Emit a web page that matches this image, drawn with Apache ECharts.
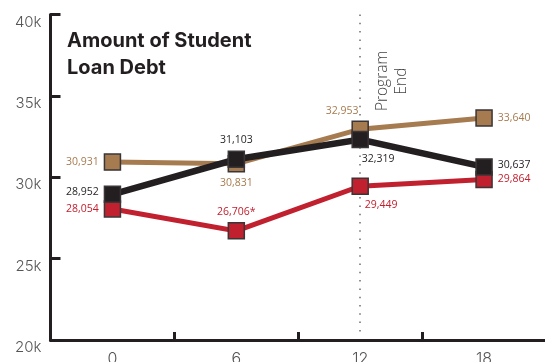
<!DOCTYPE html>
<html>
<head>
<meta charset="utf-8">
<script src="https://cdn.jsdelivr.net/npm/echarts@6/dist/echarts.min.js"></script>
<style>
  html, body { margin: 0; padding: 0; background: #ffffff; }
  #chart { width: 545px; height: 362px; }
</style>
</head>
<body>
<div id="chart"></div>
<script>
// Months since program start
const months = ['0', '6', '12', '18'];
// Y axis range and step
const yMin = 20000;
const yMax = 40000;
const yStep = 5000;

// Average student loan debt per group
const tanValues = [30931, 30831, 32953, 33640];
const redValues = [28054, 26706, 29449, 29864];
const blackValues = [28952, 31103, 32319, 30637];
const redNotes = ['', '*', '', ''];

const programEndMonth = '12';
const titleText = 'Amount of Student\nLoan Debt';
const programEndText = 'Program\nEnd';

const TAN = '#a67b4f';
const RED = '#c1202f';
const BLACK = '#231f20';
const AXIS = '#231f20';
const MARKER_EDGE = '#3a3536';

// where each value label sits relative to its marker
const tanPlace = [
  { position: 'left' },
  { position: 'bottom' },
  { position: 'top', offset: [-18, 1] },
  { position: 'right' }
];
const redPlace = [
  { position: 'left' },
  { position: 'top' },
  { position: 'bottom', offset: [21, 0] },
  { position: 'right' }
];
const blackPlace = [
  { position: 'left', offset: [0, -2] },
  { position: 'top' },
  { position: 'bottom', offset: [18, 0] },
  { position: 'right', offset: [0, -2] }
];

const fmt = v => v.toLocaleString('en-US');

function buildData(values, places, color, notes) {
  return values.map((v, i) => ({
    value: v,
    label: Object.assign({
      show: true,
      color: color,
      fontFamily: '"Open Sans", sans-serif',
      fontSize: 10.5,
      distance: 5,
      formatter: () => fmt(v) + (notes ? notes[i] : '')
    }, places[i])
  }));
}

function lineSeries(name, values, places, color, width, notes) {
  return {
    name: name,
    type: 'line',
    z: 6,
    data: buildData(values, places, color, notes),
    symbol: 'rect',
    symbolSize: 16,
    showAllSymbol: true,
    lineStyle: { color: color, width: width, cap: 'butt', join: 'miter' },
    itemStyle: { color: color, borderColor: MARKER_EDGE, borderWidth: 1.5 },
    emphasis: { disabled: true },
    animation: false
  };
}

const chart = echarts.init(document.getElementById('chart'), null, { renderer: 'canvas' });

chart.setOption({
  backgroundColor: '#ffffff',
  animation: false,
  title: {
    text: titleText,
    left: 67,
    top: 27,
    padding: 0,
    textStyle: {
      fontFamily: 'Inter, "Noto Sans", sans-serif',
      fontWeight: 700,
      fontSize: 20,
      lineHeight: 27,
      color: '#231f20'
    }
  },
  grid: {
    left: 50.5,
    right: -1,
    top: 14.5,
    bottom: 22,
    outerBoundsMode: 'none'
  },
  xAxis: {
    type: 'category',
    data: months,
    boundaryGap: true,
    axisLine: { lineStyle: { color: AXIS, width: 3 } },
    axisTick: { show: true, inside: true, length: 8, lineStyle: { color: AXIS, width: 3 } },
    axisLabel: {
      margin: 11,
      color: '#555555',
      fontFamily: 'Inter, sans-serif',
      fontWeight: 300,
      fontSize: 16
    },
    splitLine: { show: false }
  },
  yAxis: {
    type: 'value',
    min: yMin,
    max: yMax,
    interval: yStep,
    axisLine: { show: true, lineStyle: { color: AXIS, width: 3 } },
    axisTick: { show: true, inside: true, length: 10, lineStyle: { color: AXIS, width: 3 } },
    axisLabel: {
      margin: 9,
      color: '#555555',
      fontFamily: 'Inter, sans-serif',
      fontWeight: 300,
      fontSize: 15,
      verticalAlign: 'top',
      formatter: v => (v / 1000) + 'k'
    },
    splitLine: { show: false }
  },
  graphic: [{
    type: 'text',
    x: 392,
    y: 81,
    rotation: Math.PI / 2,
    silent: true,
    style: {
      text: programEndText,
      fill: '#444444',
      font: '300 15.5px "Open Sans", sans-serif',
      lineHeight: 19,
      align: 'center',
      verticalAlign: 'middle'
    }
  }],
  series: [
    {
      // dotted guide at the end of the program, kept beneath the data lines
      name: 'Program End',
      type: 'line',
      z: 1,
      data: [],
      animation: false,
      markLine: {
        silent: true,
        symbol: 'none',
        animation: false,
        z: 1,
        label: { show: false },
        lineStyle: { color: '#6d6e71', type: [1.5, 6.8], width: 1.5, cap: 'butt' },
        data: [[{ coord: [programEndMonth, yMax] }, { coord: [programEndMonth, yMin + 200] }]]
      }
    },
    lineSeries('Tan', tanValues, tanPlace, TAN, 5, null),
    lineSeries('Red', redValues, redPlace, RED, 5, redNotes),
    lineSeries('Black', blackValues, blackPlace, BLACK, 6.5, null)
  ]
});
</script>
</body>
</html>
